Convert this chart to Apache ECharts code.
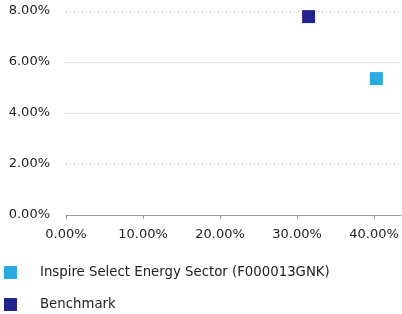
<!DOCTYPE html>
<html>
<head>
<meta charset="utf-8">
<script src="https://cdn.jsdelivr.net/npm/echarts@6/dist/echarts.min.js"></script>
<style>
    html, body { margin: 0; padding: 0; background: #fff; }
    #chart { width: 402px; height: 314px; }
</style>
</head>
<body>
<div id="chart"></div>
<script>
var seriesNames = ['Inspire Select Energy Sector (F000013GNK)', 'Benchmark'];
var seriesColors = ['#29abe2', '#22228e'];
// [risk (x), return (y)] in percent
var fundPoint = [40.3, 5.35];
var benchPoint = [31.5, 7.78];
var xTicks = [0, 10, 20, 30, 40];
var yTicks = [0, 2, 4, 6, 8];

var chart = echarts.init(document.getElementById('chart'));
var font = 'DejaVu Sans';

function pct(v) {
    return v.toFixed(2) + '%';
}

// one legend per row so they stack like the original
function legendRow(name, top) {
    return {
        orient: 'vertical',
        left: 4,
        top: top,
        padding: 0,
        itemWidth: 13,
        itemHeight: 13,
        icon: 'rect',
        data: [name],
        textStyle: {
            fontFamily: font,
            fontSize: 13.3,
            color: '#222',
            padding: [0, 0, 0, 18]
        }
    };
}

var option = {
    animation: false,
    grid: {
        left: 66,
        right: 1,
        top: 11,
        bottom: 99,
        containLabel: false
    },
    legend: [
        legendRow(seriesNames[0], 266),
        legendRow(seriesNames[1], 298)
    ],
    xAxis: {
        type: 'value',
        min: 0,
        max: 43.5,
        interval: 10,
        axisLine: { show: true, lineStyle: { color: '#999' } },
        axisTick: { show: true, length: 4, lineStyle: { color: '#999' } },
        splitLine: { show: false },
        axisLabel: {
            fontFamily: font,
            fontSize: 13,
            color: '#222',
            margin: 13,
            showMaxLabel: false,
            formatter: function(v) {
                return xTicks.indexOf(v) >= 0 ? pct(v) : '';
            }
        }
    },
    yAxis: {
        type: 'value',
        min: 0,
        max: 8,
        interval: 2,
        axisLine: { show: false },
        axisTick: { show: false },
        splitLine: {
            show: true,
            lineStyle: { color: '#aaa', type: [1, 3], width: 1 }
        },
        axisLabel: {
            fontFamily: font,
            fontSize: 13,
            color: '#222',
            margin: 16,
            padding: [4, 0, 0, 0],
            formatter: function(v) {
                return yTicks.indexOf(v) >= 0 ? pct(v) : '';
            }
        }
    },
    series: [{
        name: seriesNames[0],
        type: 'scatter',
        symbol: 'rect',
        symbolSize: 13,
        itemStyle: { color: seriesColors[0], opacity: 1 },
        data: [fundPoint]
    }, {
        name: seriesNames[1],
        type: 'scatter',
        symbol: 'rect',
        symbolSize: 13,
        itemStyle: { color: seriesColors[1], opacity: 1 },
        data: [benchPoint]
    }]
};
chart.setOption(option);
</script>
</body>
</html>
